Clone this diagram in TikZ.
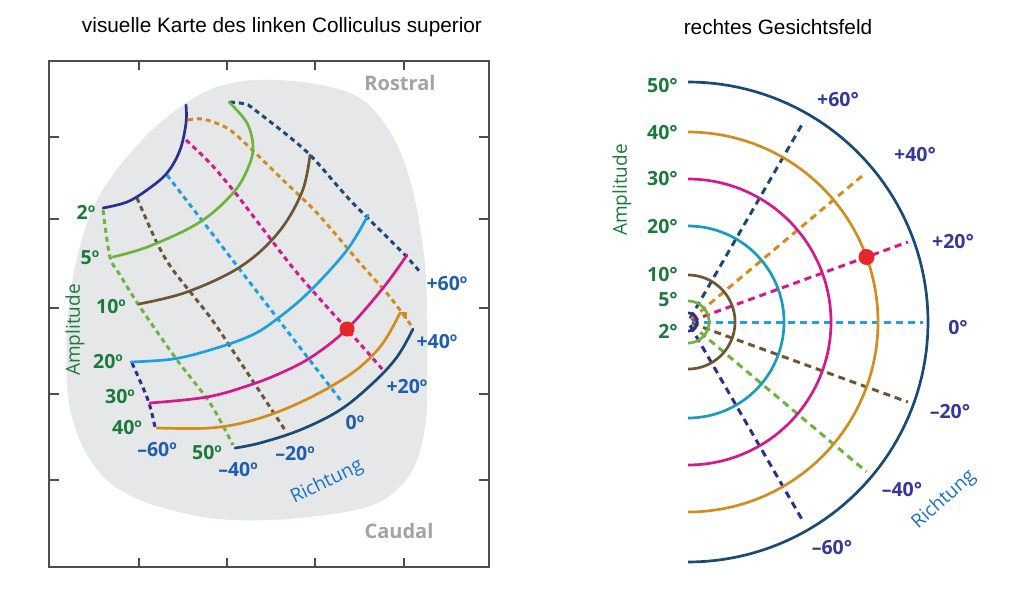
\documentclass[tikz,border=0pt]{standalone}
\usepackage{fontspec}
\setmainfont{Liberation Sans}
\newfontfamily\labfont{Open Sans}
\definecolor{cTwo}{HTML}{2B2F8F}
\definecolor{cFive}{HTML}{6DB33F}
\definecolor{cTen}{HTML}{6D5535}
\definecolor{cTwenty}{HTML}{1BA1E2}
\definecolor{cTwentyR}{HTML}{1A9BC2}
\definecolor{cThirty}{HTML}{D4198C}
\definecolor{cForty}{HTML}{D18E1F}
\definecolor{cFifty}{HTML}{1A4A76}
\definecolor{ampgreen}{HTML}{1B7A3C}
\definecolor{dirblue}{HTML}{1F5EAE}
\definecolor{dirind}{HTML}{35389A}
\definecolor{richblue}{HTML}{1A72C6}
\definecolor{blobgray}{HTML}{E6E7E8}
\definecolor{framegray}{HTML}{4D4D4D}
\definecolor{rosgray}{HTML}{A3A3A3}
\definecolor{dotred}{HTML}{E8262A}
\newcommand\dego{\raisebox{0.36em}{\fontsize{12}{12}\selectfont o}}
\tikzset{
  solidc/.style={line width=2.7pt, line cap=round},
  dashc/.style={line width=3pt, dash pattern=on 5pt off 4pt},
  rdash/.style={line width=3pt, dash pattern=on 7pt off 5pt},
  amp/.style={text=ampgreen, font=\labfont\bfseries\fontsize{19.5}{19.5}\selectfont, inner sep=0pt},
  dirL/.style={text=dirblue, font=\labfont\bfseries\fontsize{19.5}{19.5}\selectfont, inner sep=0pt},
  dirR/.style={text=dirind, font=\labfont\bfseries\fontsize{19.5}{19.5}\selectfont, inner sep=0pt},
  axlab/.style={font=\labfont\fontsize{19}{19}\selectfont, inner sep=0pt},
  ttl/.style={font=\fontsize{20.8}{20.8}\selectfont, inner sep=0pt},
  sidelab/.style={text=rosgray, font=\labfont\bfseries\fontsize{20}{20}\selectfont, inner sep=0pt},
  tick/.style={line width=1.6pt, draw=framegray}
}
\begin{document}
\begin{tikzpicture}[x=1pt,y=-1pt]
\useasboundingbox (0,0) rectangle (1024,591);
\fill[white] (0,0) rectangle (1024,591);

% ---------------- titles
\node[ttl] (t1) at (282,27) {visuelle Karte des linken Colliculus superior};
\node[ttl] (t2) at (778,27) {rechtes Gesichtsfeld};

% ---------------- left panel
\fill[blobgray] plot[smooth cycle, tension=0.6] coordinates {
 (277,80) (350,93) (387,127) (410,180) (423,247) (427,307) (427,400) (425,427)
 (417,460) (400,487) (367,507) (300,518) (233,520) (183,513) (133,497) (100,473)
 (77,433) (67,383) (69,305) (80,247) (97,200) (127,157) (167,117) (217,87)};

\draw[line width=1.6pt, draw=framegray] (49,61) rectangle (489,567);
\foreach \xx in {139,227,315,404} {
  \draw[tick] (\xx,61) -- (\xx,70);
  \draw[tick] (\xx,567) -- (\xx,558);
}
\foreach \yy in {137,219,308,394,480} {
  \draw[tick] (49,\yy) -- (59,\yy);
  \draw[tick] (489,\yy) -- (479,\yy);
}

\node[sidelab] (ros) at (400,83) {Rostral};
\node[sidelab] (cau) at (399,531) {Caudal};

% direction lines (dashed)
\draw[dashc, cFifty] plot[smooth, tension=0.5] coordinates {(230,102) (245,104) (255,110) (307,152) (350,200) (403,253) (420,272)};
\draw[dashc, cForty] plot[smooth, tension=0.5] coordinates {(188,120) (203,119) (227,128) (247,145) (283,180) (317,213) (360,263) (390,297) (413,328)};
\draw[dashc, cThirty] plot[smooth, tension=0.5] coordinates {(186,140) (210,163) (233,190) (250,212) (293,268) (327,307) (347,329) (383,370)};
\draw[dashc, cTwenty] (167,175) -- (342,402);
\draw[dashc, cTen] plot[smooth, tension=0.5] coordinates {(137,198) (157,243) (173,270) (210,317) (237,357) (285,430)};
\draw[dashc, cFive] plot[smooth, tension=0.5] coordinates {(103,210) (110,257) (120,275) (140,307) (177,360) (210,403) (233,445)};
\draw[dashc, cTwo] plot[smooth, tension=0.5] coordinates {(132,363) (148,400) (155,427)};

% amplitude lines (solid)
\draw[solidc, cTwo] plot[smooth, tension=0.6] coordinates {(186,105) (186,123) (180,150) (167,173) (147,190) (127,202) (103,208)};
\draw[solidc, cFive] plot[smooth, tension=0.6] coordinates {(229,102) (247,123) (253,147) (248,168) (233,193) (200,222) (150,246) (113,257)};
\draw[solidc, cTen] plot[smooth, tension=0.6] coordinates {(310,155) (302,192) (278,233) (240,267) (187,292) (139,304)};
\draw[solidc, cTwenty] plot[smooth, tension=0.6] coordinates {(368,215) (347,250) (310,291) (277,319) (250,336) (210,350) (173,359) (131,362)};
\draw[solidc, cThirty] plot[smooth, tension=0.6] coordinates {(407,255) (383,288) (347,329) (313,356) (283,372) (250,385) (207,397) (150,403)};
\draw[solidc, cForty] plot[smooth, tension=0.6] coordinates {(400,313) (383,343) (360,367) (330,387) (290,407) (250,421) (210,428) (157,428)};
\draw[line width=2.4pt, cForty] (399,313) -- (406,313) -- (406,319);
\draw[solidc, cFifty] plot[smooth, tension=0.6] coordinates {(413,329) (397,357) (373,383) (340,410) (300,430) (260,443) (235,448)};

\fill[dotred] (347,329) circle[radius=7.5];

% labels
\node[amp] (la2) at (86,212) {2\dego};
\node[amp] (la5) at (90,258) {5\dego};
\node[amp] (la10) at (111,307) {10\dego};
\node[amp] (la20) at (108,362) {20\dego};
\node[amp] (la30) at (120,397) {30\dego};
\node[amp] (la40) at (127,428) {40\dego};
\node[amp] (la50) at (207,453) {50\dego};
\node[dirL] (ld-60) at (157,450) {–60\dego};
\node[dirL] (ld-40) at (238,470) {–40\dego};
\node[dirL] (ld-20) at (295,454) {–20\dego};
\node[dirL] (ld0) at (355,423) {0\dego};
\node[dirL] (ld20) at (407,387) {+20\dego};
\node[dirL] (ld40) at (437,342) {+40\dego};
\node[dirL] (ld60) at (447,284) {+60\dego};
\node[axlab, text=ampgreen, rotate=90] (lamp) at (75,330) {Amplitude};
\node[axlab, text=richblue, rotate=26] (lrich) at (327,482) {Richtung};

% ---------------- right panel
\coordinate (RC) at (688,322);
\foreach \ang/\rr/\col in {60/231/cFifty, 40/232/cForty, 20/234/cThirty, 0/235/cTwenty, -20/234/cTen, -40/233/cFive, -60/230/cTwo} {
  \draw[rdash, \col] ({688+4*cos(\ang)},{322-4*sin(\ang)}) -- ({688+\rr*cos(\ang)},{322-\rr*sin(\ang)});
}
\foreach \rr/\col in {9/cTwo, 21/cFive, 47/cTen, 96/cTwentyR, 143/cThirty, 190/cForty, 240/cFifty} {
  \draw[line width=2.7pt, \col] plot[domain=90:-90, samples=90] ({688+\rr*cos(\x)},{322-\rr*sin(\x)});
}
\fill[dotred] (866.5,257) circle[radius=8];

\node[amp, anchor=east] (ra50) at (678,86) {50°};
\node[amp, anchor=east] (ra40) at (678,133) {40°};
\node[amp, anchor=east] (ra30) at (678,179) {30°};
\node[amp, anchor=east] (ra20) at (678,227) {20°};
\node[amp, anchor=east] (ra10) at (678,275) {10°};
\node[amp, anchor=east] (ra5) at (678,300) {5°};
\node[amp, anchor=east] (ra2) at (678,331) {2°};
\node[dirR] (rd60) at (838,100) {+60°};
\node[dirR] (rd40) at (915,155) {+40°};
\node[dirR] (rd20) at (953,242) {+20°};
\node[dirR] (rd0) at (958,328) {0°};
\node[dirR] (rd-20) at (950,412) {–20°};
\node[dirR] (rd-40) at (902,490) {–40°};
\node[dirR] (rd-60) at (832,548) {–60°};
\node[axlab, text=ampgreen, rotate=90] (ramp) at (622,190) {Amplitude};
\node[axlab, text=richblue, rotate=42] (rrich) at (944,500) {Richtung};
\end{tikzpicture}
\end{document}
